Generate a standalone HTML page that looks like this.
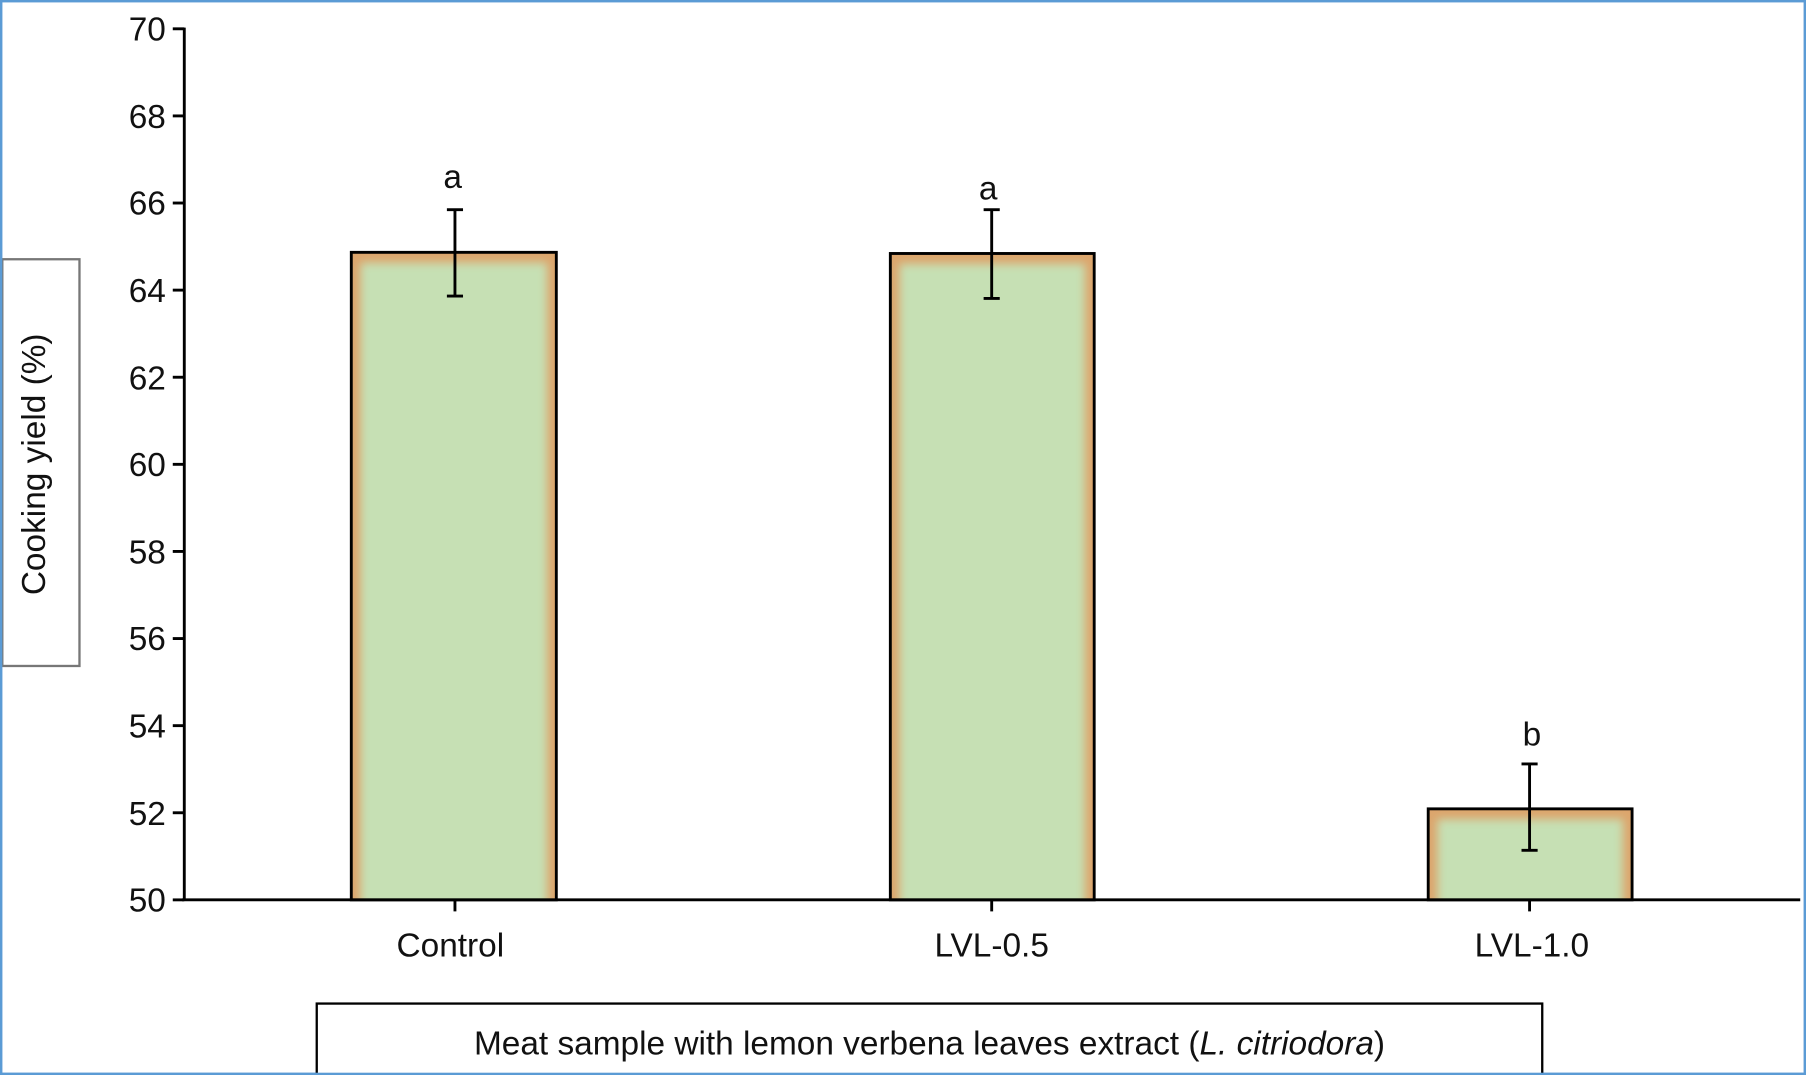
<!DOCTYPE html>
<html><head><meta charset="utf-8"><style>
html,body{margin:0;padding:0;background:#fff;}
svg{display:block;}
text{font-family:"Liberation Sans",Arial,sans-serif;fill:#111;}
</style></head><body>
<svg width="1806" height="1075" viewBox="0 0 1568 933" preserveAspectRatio="none" xmlns="http://www.w3.org/2000/svg">
<defs>
<filter id="bl" x="-10%" y="-10%" width="120%" height="120%"><feGaussianBlur stdDeviation="4"/></filter>
<clipPath id="c1"><rect x="305" y="219" width="178" height="562"/></clipPath>
<clipPath id="c2"><rect x="773" y="220" width="177" height="561"/></clipPath>
<clipPath id="c3"><rect x="1240" y="702" width="177" height="79"/></clipPath>
</defs>
<rect x="1" y="1" width="1566" height="931" fill="#fff" stroke="#5b9bd5" stroke-width="2"/>
<g clip-path="url(#c1)"><rect x="305" y="219" width="178" height="562" fill="#dca56c"/><rect x="313" y="228" width="162" height="560" fill="#c6e0b4" filter="url(#bl)"/></g>
<rect x="305" y="219" width="178" height="562" fill="none" stroke="#000" stroke-width="2.5"/>
<g clip-path="url(#c2)"><rect x="773" y="220" width="177" height="561" fill="#dca56c"/><rect x="781" y="229" width="161" height="560" fill="#c6e0b4" filter="url(#bl)"/></g>
<rect x="773" y="220" width="177" height="561" fill="none" stroke="#000" stroke-width="2.5"/>
<g clip-path="url(#c3)"><rect x="1240" y="702" width="177" height="79" fill="#dca56c"/><rect x="1248" y="711" width="161" height="80" fill="#c6e0b4" filter="url(#bl)"/></g>
<rect x="1240" y="702" width="177" height="79" fill="none" stroke="#000" stroke-width="2.5"/>
<g stroke="#000" stroke-width="2.5">
<line x1="395" y1="182" x2="395" y2="257"/><line x1="388" y1="182" x2="402" y2="182"/><line x1="388" y1="257" x2="402" y2="257"/>
<line x1="861" y1="182" x2="861" y2="259"/><line x1="854" y1="182" x2="868" y2="182"/><line x1="854" y1="259" x2="868" y2="259"/>
<line x1="1328" y1="663" x2="1328" y2="738"/><line x1="1321" y1="663" x2="1335" y2="663"/><line x1="1321" y1="738" x2="1335" y2="738"/>
</g>
<text x="393" y="163" font-size="29" text-anchor="middle">a</text>
<text x="858" y="173" font-size="29" text-anchor="middle">a</text>
<text x="1330" y="647" font-size="29" text-anchor="middle">b</text>
<g stroke="#000" stroke-width="2.5">
<line x1="160" y1="24" x2="160" y2="782"/>
<line x1="158" y1="781" x2="1563" y2="781"/>
<line x1="150" y1="25" x2="160" y2="25"/><line x1="150" y1="100.6" x2="160" y2="100.6"/><line x1="150" y1="176.2" x2="160" y2="176.2"/><line x1="150" y1="251.8" x2="160" y2="251.8"/><line x1="150" y1="327.4" x2="160" y2="327.4"/><line x1="150" y1="403" x2="160" y2="403"/><line x1="150" y1="478.6" x2="160" y2="478.6"/><line x1="150" y1="554.2" x2="160" y2="554.2"/><line x1="150" y1="629.8" x2="160" y2="629.8"/><line x1="150" y1="705.4" x2="160" y2="705.4"/><line x1="150" y1="781" x2="160" y2="781"/>
<line x1="395" y1="781" x2="395" y2="791"/><line x1="861" y1="781" x2="861" y2="791"/><line x1="1328" y1="781" x2="1328" y2="791"/>
</g>
<g font-size="29" text-anchor="end">
<text x="144" y="35">70</text><text x="144" y="111">68</text><text x="144" y="186">66</text><text x="144" y="262">64</text><text x="144" y="338">62</text><text x="144" y="413">60</text><text x="144" y="489">58</text><text x="144" y="564">56</text><text x="144" y="640">54</text><text x="144" y="716">52</text><text x="144" y="791">50</text>
</g>
<g font-size="29" text-anchor="middle">
<text x="391" y="830">Control</text><text x="861" y="830">LVL-0.5</text><text x="1330" y="830">LVL-1.0</text>
</g>
<rect x="2" y="225" width="67" height="353" fill="#fff" stroke="#777" stroke-width="2"/>
<text transform="translate(39,403) rotate(-90)" font-size="29" text-anchor="middle">Cooking yield (%)</text>
<rect x="275" y="871" width="1064" height="70" fill="#fff" stroke="#000" stroke-width="2"/>
<text x="807" y="915" font-size="29" text-anchor="middle">Meat sample with lemon verbena leaves extract (<tspan font-style="italic">L. citriodora</tspan>)</text>
<rect x="1" y="1" width="1566" height="931" fill="none" stroke="#5b9bd5" stroke-width="2"/>
</svg>
</body></html>
